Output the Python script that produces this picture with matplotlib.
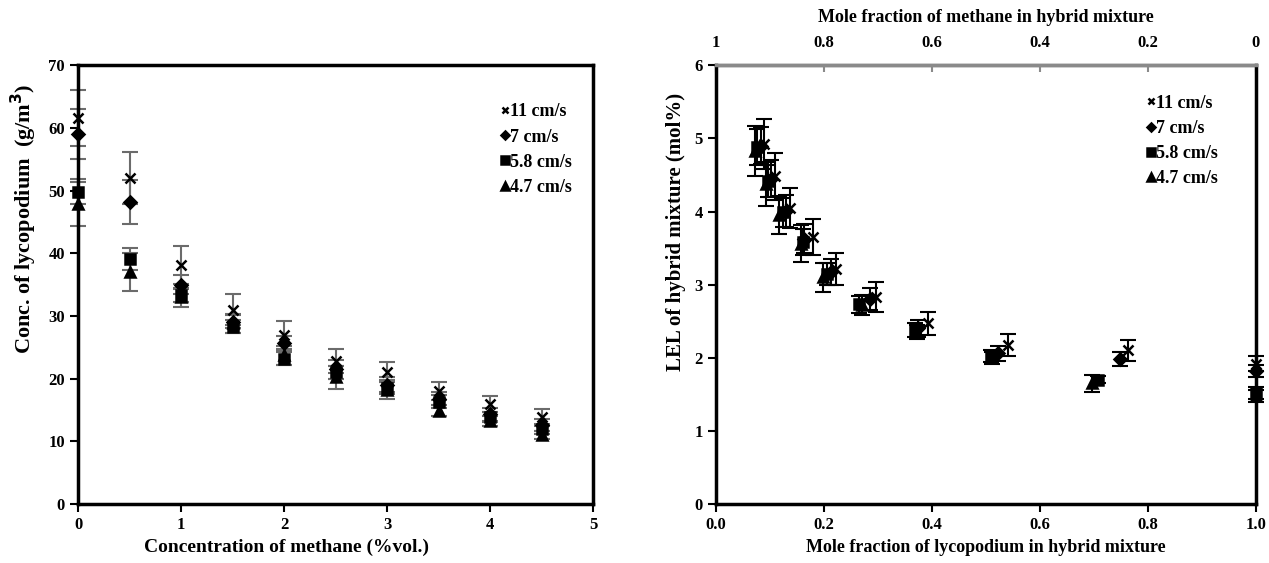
import matplotlib.pyplot as plt
import numpy as np

plt.rcParams['font.family'] = ['Liberation Serif', 'DejaVu Serif']
plt.rcParams['font.weight'] = 'bold'

# legend names and markers
series = ['11 cm/s', '7 cm/s', '5.8 cm/s', '4.7 cm/s']
markers = ['x', 'D', 's', '^']
msizes = [7, 6, 7.5, 7.5]

# left chart: lycopodium concentration vs methane concentration
methane = [0, 0.5, 1, 1.5, 2, 2.5, 3, 3.5, 4, 4.5]
conc_11 = [61.6, 52.0, 38.1, 31.0, 27.0, 22.8, 21.0, 18.0, 15.9, 13.8]
conc_7 = [59.0, 48.2, 35.0, 29.1, 25.6, 21.5, 19.0, 16.8, 14.3, 12.6]
conc_58 = [49.8, 39.1, 33.3, 28.3, 23.2, 21.0, 18.5, 16.3, 13.8, 12.0]
conc_47 = [47.8, 37.0, 33.0, 28.8, 23.7, 20.2, 18.2, 14.9, 13.2, 11.0]
err_11 = [4.5, 4.2, 3.0, 2.5, 2.2, 1.9, 1.6, 1.4, 1.3, 1.3]
err_7 = [4.0, 3.5, 1.5, 1.0, 1.2, 1.5, 1.2, 1.0, 1.0, 0.9]
err_58 = [2.0, 1.8, 1.0, 1.0, 1.0, 1.0, 1.0, 1.0, 0.8, 0.8]
err_47 = [3.5, 3.0, 1.5, 1.5, 1.5, 1.8, 1.5, 0.9, 0.8, 0.6]

# right chart: LEL vs mole fraction of lycopodium
frac_11 = [0.090, 0.110, 0.138, 0.180, 0.222, 0.297, 0.393, 0.542, 0.763, 1.0]
lel_11 = [4.92, 4.48, 4.05, 3.65, 3.21, 2.83, 2.47, 2.17, 2.10, 1.92]
lerr_11 = [0.34, 0.32, 0.27, 0.25, 0.22, 0.20, 0.16, 0.15, 0.14, 0.10]
frac_7 = [0.083, 0.102, 0.130, 0.164, 0.213, 0.285, 0.375, 0.522, 0.748, 1.0]
lel_7 = [4.90, 4.45, 4.01, 3.63, 3.17, 2.80, 2.40, 2.06, 1.98, 1.82]
lerr_7 = [0.25, 0.25, 0.22, 0.20, 0.18, 0.15, 0.12, 0.10, 0.10, 0.08]
frac_58 = [0.077, 0.096, 0.124, 0.161, 0.206, 0.266, 0.369, 0.509, 0.708, 1.0]
lel_58 = [4.88, 4.42, 3.99, 3.58, 3.14, 2.73, 2.38, 2.02, 1.70, 1.52]
lerr_58 = [0.25, 0.22, 0.20, 0.18, 0.15, 0.12, 0.10, 0.08, 0.05, 0.08]
frac_47 = [0.072, 0.093, 0.118, 0.158, 0.199, 0.271, 0.372, 0.512, 0.696, 1.0]
lel_47 = [4.83, 4.38, 3.95, 3.56, 3.10, 2.72, 2.35, 2.00, 1.65, 1.48]
lerr_47 = [0.34, 0.30, 0.26, 0.25, 0.20, 0.14, 0.10, 0.08, 0.12, 0.08]

left_y = [conc_11, conc_7, conc_58, conc_47]
left_e = [err_11, err_7, err_58, err_47]
right_x = [frac_11, frac_7, frac_58, frac_47]
right_y = [lel_11, lel_7, lel_58, lel_47]
right_e = [lerr_11, lerr_7, lerr_58, lerr_47]

fig = plt.figure(figsize=(12.69, 5.63), dpi=100)
ax1 = fig.add_axes([0.0615, 0.105, 0.406, 0.779])
ax2 = fig.add_axes([0.564, 0.105, 0.4255, 0.779])

legend_kw = dict(loc='upper right', frameon=False, handlelength=0.5,
                 handletextpad=0.05, labelspacing=0.45, markerscale=0.7,
                 prop={'size': 13, 'weight': 'bold'})

# left chart
for name, m, ms, y, e in zip(series, markers, msizes, left_y, left_e):
    ax1.errorbar(methane, y, yerr=e, fmt='none', ecolor='#6b6b6b',
                 elinewidth=1.5, capsize=6, capthick=1.5, clip_on=False, zorder=2)
    ax1.plot(methane, y, m, color='black', ms=ms, mew=1.8, linestyle='none',
             label=name, clip_on=False, zorder=3)
ax1.set_xlim(0, 5)
ax1.set_ylim(0, 70)
ax1.set_xticks(range(0, 6))
ax1.set_yticks(range(0, 80, 10))
ax1.set_xlabel('Concentration of methane (%vol.)', fontsize=14, fontweight='bold')
ax1.xaxis.set_label_coords(0.405, -0.08)
ax1.set_ylabel('Conc. of lycopodium  (g/m$^\\mathbf{3}$)', fontsize=16, fontweight='bold')
ax1.yaxis.set_label_coords(-0.075, 0.65)
for s in ax1.spines.values():
    s.set_linewidth(2.5)
ax1.tick_params(direction='out', length=6, width=1.5, labelsize=12)
ax1.legend(bbox_to_anchor=(0.99, 0.95), **legend_kw)

# right chart
for name, m, ms, x, y, e in zip(series, markers, msizes, right_x, right_y, right_e):
    ax2.errorbar(x, y, yerr=e, fmt='none', ecolor='black',
                 elinewidth=1.5, capsize=6, capthick=1.5, clip_on=False, zorder=2)
    ax2.plot(x, y, m, color='black', ms=ms, mew=1.8, linestyle='none',
             label=name, clip_on=False, zorder=3)
ax2.set_xlim(0, 1)
ax2.set_ylim(0, 6)
ax2.set_xticks(np.arange(0, 1.01, 0.2))
ax2.set_xticklabels(['0.0', '0.2', '0.4', '0.6', '0.8', '1.0'])
ax2.set_yticks(range(0, 7))
ax2.set_xlabel('Mole fraction of lycopodium in hybrid mixture', fontsize=13, fontweight='bold')
ax2.xaxis.set_label_coords(0.5, -0.08)
ax2.set_ylabel('LEL of hybrid mixture (mol%)', fontsize=15, fontweight='bold')
ax2.yaxis.set_label_coords(-0.055, 0.62)
for s in ax2.spines.values():
    s.set_linewidth(2.5)
ax2.spines['top'].set_color('#8a8a8a')
ax2.tick_params(direction='out', length=6, width=1.5, labelsize=12)

top = ax2.secondary_xaxis('top', functions=(lambda v: 1 - v, lambda v: 1 - v))
top.set_xticks([1, 0.8, 0.6, 0.4, 0.2, 0])
top.set_xticklabels(['1', '0.8', '0.6', '0.4', '0.2', '0'])
top.tick_params(direction='in', length=5, width=1.5, labelsize=12, color='#8a8a8a', pad=10)
top.spines['top'].set_linewidth(2.5)
top.spines['top'].set_color('#8a8a8a')
top.set_xlabel('Mole fraction of methane in hybrid mixture', fontsize=13,
               fontweight='bold', labelpad=10)

ax2.legend(bbox_to_anchor=(0.96, 0.97), **legend_kw)

fig.savefig('out.png', dpi=100)
